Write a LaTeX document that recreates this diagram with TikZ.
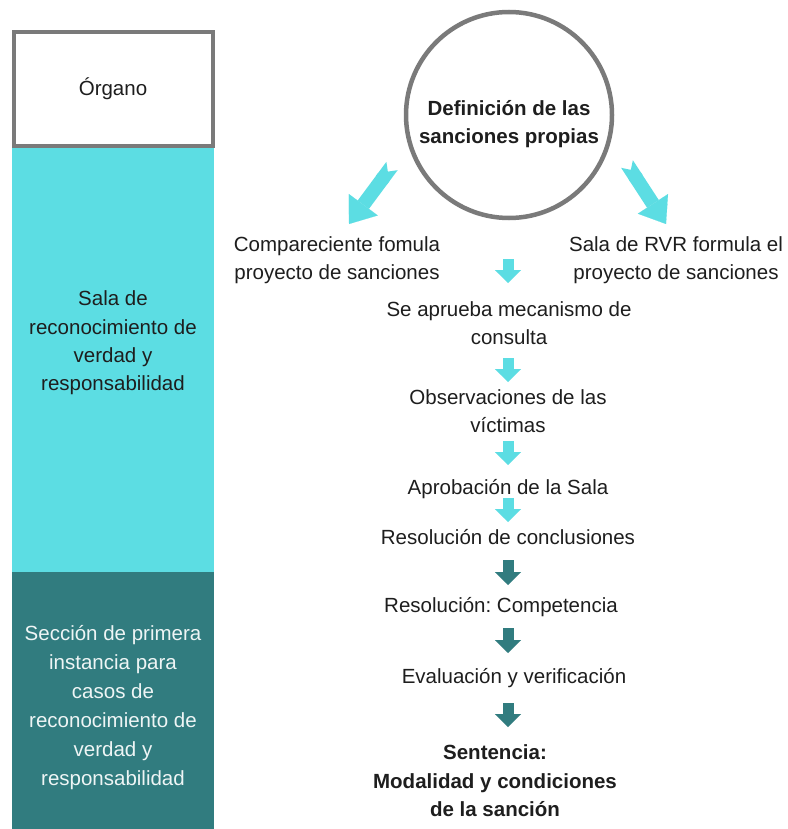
\documentclass[tikz,border=0pt]{standalone}
\usepackage{fontspec}
\setmainfont{Liberation Sans}
\usetikzlibrary{arrows.meta}
\definecolor{salacyan}{RGB}{92,221,227}
\definecolor{seccionteal}{RGB}{49,124,127}
\definecolor{bordergray}{RGB}{122,122,122}
\definecolor{textdark}{RGB}{30,30,30}
\tikzset{
  steptext/.style  = {align=center, inner sep=0pt, text=textdark,
                      font=\frenchspacing\fontsize{20.5}{28.4}\selectfont},
  stepbold/.style  = {steptext, font=\bfseries\fontsize{20.5}{28.4}\selectfont},
  sectext/.style   = {steptext, text=white!92!seccionteal,
                      font=\fontsize{20.5}{29}\selectfont},
  bigarrow/.style  = {draw=salacyan, line width=14pt,
                      {Triangle Cap[reversed]}-{Triangle[width=36pt,length=24pt,line width=0.1pt]}},
  cyanarrow/.style = {draw=salacyan, line width=11pt,
                      -{Triangle[width=26pt,length=13pt,line width=0.1pt]}},
  tealarrow/.style = {draw=seccionteal, line width=11pt,
                      -{Triangle[width=26pt,length=13pt,line width=0.1pt]}}
}
\newcommand{\DrawStepArrow}[4]{%
  % names the two ends of the step arrow
  \coordinate (#1top) at (508,#3);
  \coordinate (#1bot) at (508,#4);
  % draws the block arrow between them
  \draw[#2] (#1top) -- (#1bot);
}

\begin{document}
\begin{tikzpicture}[x=1pt,y=-1pt]
    \useasboundingbox (0,0) rectangle (787,829);
    \fill[white] (0,0) rectangle (787,829);

    % left column: organ
    \fill[salacyan]    (12,148) rectangle (214,572);
    \fill[seccionteal] (12,572) rectangle (214,829);
    \draw[bordergray, line width=4pt] (14,32) rectangle (213,146);
    \node[steptext] (organo) at (113,89) {Órgano};
    \node[steptext] (salatext) at (113,343)
    {Sala de\\reconocimiento de\\verdad y\\responsabilidad};
    \node[sectext] (seccion) at (113,708)
    {Sección de primera\\instancia para\\casos de\\reconocimiento de\\verdad y\\responsabilidad};

    % circle on top
    \node[circle, draw=bordergray, line width=4.5pt, minimum size=206pt,
      inner sep=0pt] (defcircle) at (509,115) {};
    \node[stepbold] (defi) at (509,124) {Definición de las\\sanciones propias};

    % the two projects
    \node[steptext] (comp) at (337,260) {Compareciente fomula\\proyecto de sanciones};
    \node[steptext] (rvr) at (676,260) {Sala de RVR formula el\\proyecto de sanciones};

    \coordinate (lefttail)  at (392,166);
    \coordinate (lefttip)   at (349,224);
    \coordinate (righttail) at (627,164);
    \coordinate (righttip)  at (666,224);
    \draw[bigarrow] (lefttail) -- (lefttip);
    \draw[bigarrow] (righttail) -- (righttip);

    % steps
    \node[steptext] (consulta) at (509,323) {Se aprueba mecanismo de\\consulta};
    \node[steptext] (victimas) at (508,411) {Observaciones de las\\víctimas};
    \node[steptext] (aprob) at (508,489) {Aprobación de la Sala};
    \node[steptext] (conclus) at (508,537) {Resolución de conclusiones};
    \node[steptext] (compet) at (501,607) {Resolución: Competencia};
    \node[steptext] (evalua) at (514,678) {Evaluación y verificación};
    \node[stepbold] (sentencia) at (495,781)
    {Sentencia:\\Modalidad y condiciones\\de la sanción};

    \DrawStepArrow{a}{cyanarrow}{259}{283}
    \DrawStepArrow{b}{cyanarrow}{358}{382}
    \DrawStepArrow{c}{cyanarrow}{441}{465}
    \DrawStepArrow{d}{cyanarrow}{498}{522}
    \DrawStepArrow{e}{tealarrow}{560}{585}
    \DrawStepArrow{f}{tealarrow}{628}{653}
    \DrawStepArrow{g}{tealarrow}{703}{727}
  \end{tikzpicture}
\end{document}
